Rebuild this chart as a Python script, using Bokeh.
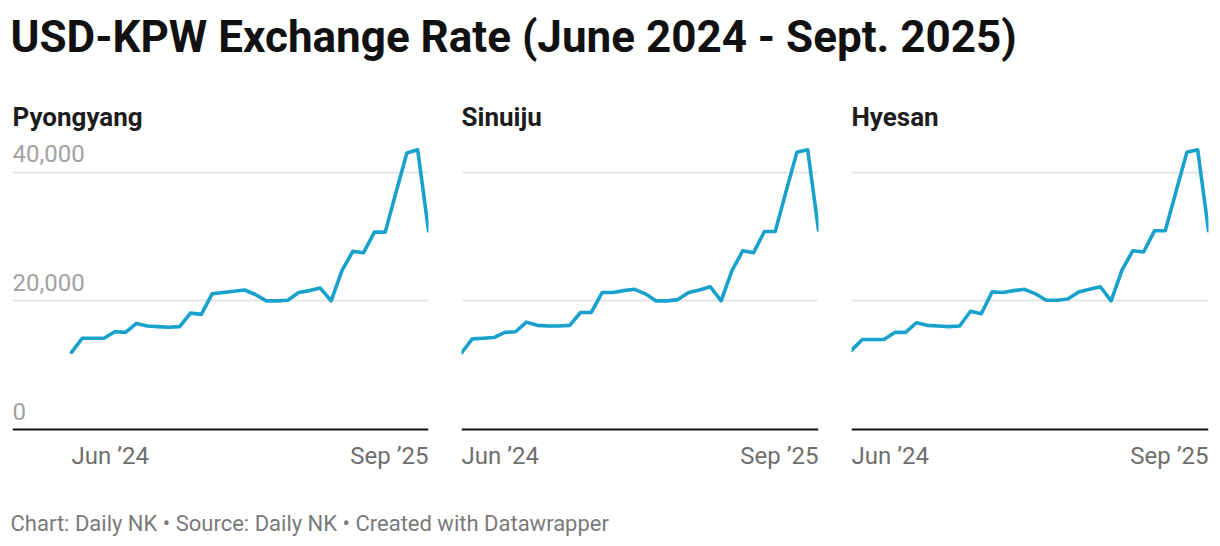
from bokeh.plotting import figure
from bokeh.models import Range1d, Span, Label, Grid, FixedTicker
from bokeh.layouts import column, row
from bokeh.embed import file_html
from bokeh.resources import INLINE
from bokeh.core.properties import value

# ---------------- data ----------------
title_text = "USD-KPW Exchange Rate (June 2024 - Sept. 2025)"
footer_text = "Chart: Daily NK \u2022 Source: Daily NK \u2022 Created with Datawrapper"
cities = ["Pyongyang", "Sinuiju", "Hyesan"]
x_tick_labels = ["Jun \u201924", "Sep \u201925"]
y_ticks = [0, 20000, 40000]
y_tick_labels = ["0", "20,000", "40,000"]
point = list(range(34))  # roughly twice-monthly observations, Jun 2024 .. Sep 2025

pyongyang = [12000, 14200, 14200, 14200, 15200, 15100, 16500, 16100, 16000, 15900,
             16000, 18100, 17900, 21100, 21300, 21500, 21700, 21000, 20000, 20000,
             20100, 21300, 21600, 22000, 20000, 24700, 27700, 27500, 30700, 30700,
             36900, 43000, 43500, 30900]
sinuiju = [11900, 14100, 14200, 14300, 15100, 15200, 16700, 16200, 16100, 16100,
           16200, 18200, 18200, 21300, 21300, 21600, 21800, 21100, 20000, 20000,
           20200, 21300, 21700, 22200, 20000, 24700, 27800, 27500, 30800, 30800,
           37000, 43100, 43500, 31000]
hyesan = [12300, 14000, 14000, 14000, 15100, 15100, 16600, 16200, 16100, 16000,
          16100, 18400, 18000, 21400, 21300, 21600, 21800, 21100, 20100, 20100,
          20300, 21400, 21800, 22200, 20000, 24800, 27800, 27600, 30900, 30900,
          37000, 43100, 43500, 30900]
series = [pyongyang, sinuiju, hyesan]

# ---------------- style / layout ----------------
FONT_NAME = "Roboto"
FONT = value(FONT_NAME)
LINE_COLOR = "#18a1cd"
GRID_COLOR = "#e5e5e5"
HEADER_H = 95
PANEL_H = 385
FOOTER_H = 64
ZERO_PX = 51          # pixels from panel frame bottom to the 0 baseline
PX_PER_20K = 128.6
UNITS_PER_PX = 20000 / PX_PER_20K
Y_START = -ZERO_PX * UNITS_PER_PX
Y_END = (PANEL_H - ZERO_PX) * UNITS_PER_PX
PX_PER_STEP = 357 / 33

panel_specs = [
    # width, border_left, border_right, left pad before first point (px)
    (445, 12, 17, 59),
    (390, 16, 17, 0),
    (383, 16, 10, 0),
]


def bare_fig(w, h, xr, yr, bl=0, br=0):
    p = figure(width=w, height=h, x_range=xr, y_range=yr,
               output_backend="svg", toolbar_location=None,
               x_axis_location=None, y_axis_location=None,
               title_location=None,
               min_border_left=bl, min_border_right=br,
               min_border_top=0, min_border_bottom=0)
    p.outline_line_color = None
    p.grid.visible = False
    p.background_fill_color = "white"
    p.border_fill_color = "white"
    return p


# header
header = bare_fig(1218, HEADER_H, Range1d(0, 1), Range1d(0, 1))
header.add_layout(Label(x=10, y=HEADER_H - 36, x_units="screen", y_units="screen",
                        text=title_text, text_font=FONT_NAME, text_font_style="bold",
                        text_font_size="44px", text_color="#111111",
                        text_baseline="middle", text_align="left"))

panels = []
for i, (city, vals) in enumerate(zip(cities, series)):
    w, bl, br, pad = panel_specs[i]
    x_start = -pad / PX_PER_STEP
    p = bare_fig(w, PANEL_H, Range1d(x_start, point[-1]), Range1d(Y_START, Y_END), bl, br)
    p.add_layout(Grid(dimension=1, ticker=FixedTicker(ticks=y_ticks[1:]),
                      grid_line_color=GRID_COLOR, grid_line_width=2))
    p.add_layout(Span(location=0, dimension="width", line_color="#141414", line_width=2))
    p.line(point, vals, line_color=LINE_COLOR, line_width=3.6, line_join="round", line_cap="round")
    if i == 0:
        p.text(x=[x_start] * len(y_ticks), y=y_ticks, text=y_tick_labels,
               text_font=FONT, text_font_size="24px", text_color="#a2a2a2",
               text_align="left", text_baseline="middle", y_offset=-18.5)
    p.text(x=[point[0]], y=[0], text=[x_tick_labels[0]], text_font=FONT,
           text_font_size="24px", text_color="#6e6e6e", text_align="left",
           text_baseline="middle", y_offset=26)
    p.text(x=[point[-1]], y=[0], text=[x_tick_labels[1]], text_font=FONT,
           text_font_size="24px", text_color="#6e6e6e", text_align="right",
           text_baseline="middle", y_offset=26)
    p.text(x=[x_start], y=[Y_END], text=[city], text_font=FONT,
           text_font_size="26px", text_font_style="bold", text_color="#1d1d1d",
           text_align="left", text_baseline="middle", y_offset=116.5 - HEADER_H)
    panels.append(p)

footer = bare_fig(1218, FOOTER_H, Range1d(0, 1), Range1d(0, 1))
footer.add_layout(Label(x=10, y=FOOTER_H - (522.5 - HEADER_H - PANEL_H),
                        x_units="screen", y_units="screen",
                        text=footer_text, text_font=FONT_NAME, text_font_size="22px",
                        text_color="#7a7a7a", text_baseline="middle",
                        text_align="left"))

layout = column(header, row(*panels), footer)
open("out.html", "w").write(file_html(layout, INLINE))
